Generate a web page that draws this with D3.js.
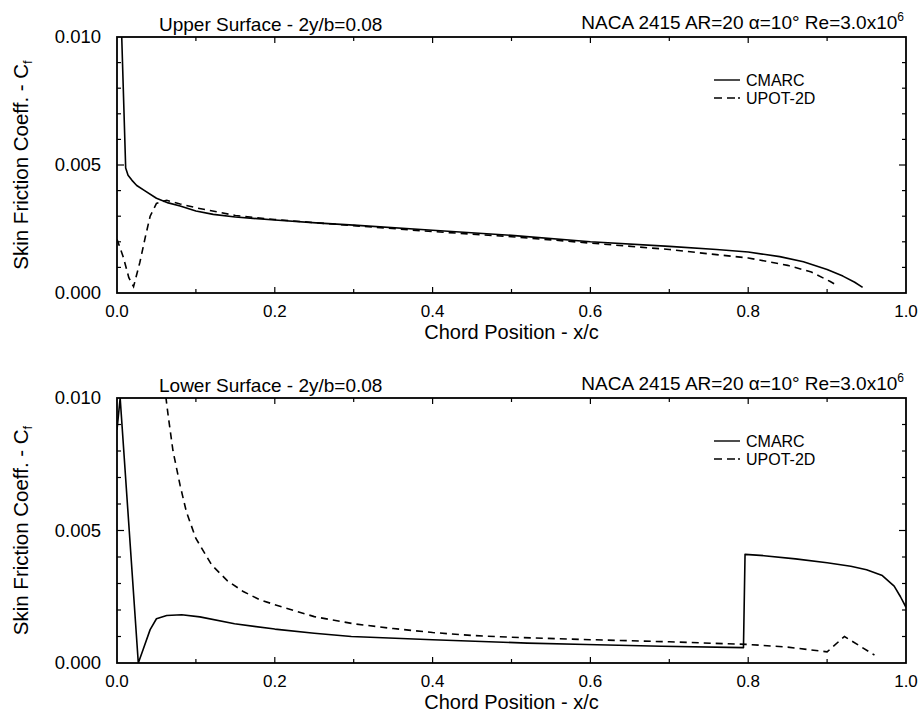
<!DOCTYPE html>
<html>
<head>
<meta charset="utf-8">
<script src="https://cdn.jsdelivr.net/npm/d3@7"></script>
<style>
  body { margin: 0; background: #fff; }
  svg { display: block; }
  text { font-family: "Liberation Sans", Arial, Helvetica, sans-serif; fill: #000; }
</style>
</head>
<body>
<svg id="chart" width="919" height="714"></svg>
<script>
// Axis ticks and labels
const xTicks = [0, 0.2, 0.4, 0.6, 0.8, 1.0];
const xTickLabels = ["0.0", "0.2", "0.4", "0.6", "0.8", "1.0"];
const yTicks = [0, 0.005, 0.010];
const yTickLabels = ["0.000", "0.005", "0.010"];
const seriesNames = ["CMARC", "UPOT-2D"];
const panelTitles = ["Upper Surface - 2y/b=0.08", "Lower Surface - 2y/b=0.08"];

// Upper surface, CMARC
const upperCmarcX  = [0.006, 0.011, 0.014, 0.019, 0.025, 0.035, 0.05, 0.065, 0.08, 0.1, 0.122, 0.15, 0.2, 0.257, 0.3, 0.4, 0.5, 0.6, 0.7, 0.76, 0.8, 0.84, 0.87, 0.9, 0.92, 0.935, 0.945];
const upperCmarcCf = [0.0100, 0.00488, 0.0046, 0.0044, 0.0042, 0.0040, 0.0037, 0.00352, 0.0034, 0.0032, 0.00307, 0.00297, 0.00285, 0.00273, 0.00265, 0.00245, 0.00225, 0.0020, 0.00182, 0.0017, 0.0016, 0.00142, 0.00122, 0.00092, 0.00066, 0.00042, 0.00022];

// Upper surface, UPOT-2D
const upperUpotX  = [0.0, 0.008, 0.015, 0.021, 0.029, 0.036, 0.042, 0.05, 0.063, 0.08, 0.1, 0.15, 0.2, 0.3, 0.4, 0.5, 0.6, 0.7, 0.75, 0.8, 0.85, 0.88, 0.904, 0.914];
const upperUpotCf = [0.0021, 0.0014, 0.0006, 0.00025, 0.0012, 0.0022, 0.0030, 0.0035, 0.00362, 0.00348, 0.00333, 0.00303, 0.00287, 0.00263, 0.0024, 0.0022, 0.00195, 0.0017, 0.00153, 0.00137, 0.00108, 0.00082, 0.00045, 0.00027];

// Lower surface, CMARC
const lowerCmarcX  = [0.0, 0.004, 0.027, 0.033, 0.042, 0.05, 0.063, 0.082, 0.105, 0.149, 0.2, 0.25, 0.297, 0.4, 0.52, 0.595, 0.69, 0.794, 0.796, 0.82, 0.86, 0.9, 0.93, 0.95, 0.97, 0.985, 0.993, 1.0];
const lowerCmarcCf = [0.0088, 0.0100, 0.0, 0.0005, 0.00126, 0.00167, 0.00179, 0.00182, 0.00174, 0.00148, 0.00128, 0.00112, 0.00100, 0.00088, 0.00075, 0.0007, 0.00063, 0.00058, 0.0041, 0.00405, 0.00393, 0.00378, 0.00365, 0.00352, 0.0033, 0.0029, 0.0025, 0.0021];

// Lower surface, UPOT-2D
const lowerUpotX  = [0.060, 0.065, 0.071, 0.08, 0.088, 0.1, 0.12, 0.14, 0.16, 0.18, 0.2, 0.25, 0.3, 0.35, 0.4, 0.45, 0.5, 0.6, 0.7, 0.8, 0.85, 0.9, 0.922, 0.96];
const lowerUpotCf = [0.0105, 0.0093, 0.0080, 0.0067, 0.0057, 0.0047, 0.0037, 0.0031, 0.0027, 0.0024, 0.0022, 0.00175, 0.00148, 0.0013, 0.00115, 0.00104, 0.00097, 0.00088, 0.0008, 0.0007, 0.0006, 0.00042, 0.0010, 0.0003];

const panels = [
  { title: panelTitles[0], top: 37, bottom: 293,
    cmarc: { x: upperCmarcX, y: upperCmarcCf }, upot: { x: upperUpotX, y: upperUpotCf } },
  { title: panelTitles[1], top: 398, bottom: 663,
    cmarc: { x: lowerCmarcX, y: lowerCmarcCf }, upot: { x: lowerUpotX, y: lowerUpotCf } }
];

const svg = d3.select("#chart");
const left = 117, right = 906;
const dash = "7,5";

panels.forEach((p, i) => {
  const x = d3.scaleLinear().domain([0, 1]).range([left, right]);
  const y = d3.scaleLinear().domain([0, 0.010]).range([p.bottom, p.top]);
  const g = svg.append("g");

  const clipId = "clip" + i;
  svg.append("clipPath").attr("id", clipId)
    .append("rect").attr("x", left).attr("y", p.top)
    .attr("width", right - left).attr("height", p.bottom - p.top);

  // inward ticks on all four sides: every 0.1 in x, every 0.001 in Cf
  const xMinor = d3.range(1, 10).map(d => d / 10);
  const yMinor = d3.range(1, 10).map(d => d / 1000);
  xMinor.forEach((v, k) => {
    const L = (k % 2 === 1) ? 6 : 4;
    g.append("line").attr("x1", x(v)).attr("x2", x(v)).attr("y1", p.bottom).attr("y2", p.bottom - L)
      .attr("stroke", "#000").attr("stroke-width", 1.2);
    g.append("line").attr("x1", x(v)).attr("x2", x(v)).attr("y1", p.top).attr("y2", p.top + L)
      .attr("stroke", "#000").attr("stroke-width", 1.2);
  });
  yMinor.forEach(v => {
    const L = Math.abs(v - 0.005) < 1e-9 ? 7 : 4;
    g.append("line").attr("x1", left).attr("x2", left + L).attr("y1", y(v)).attr("y2", y(v))
      .attr("stroke", "#000").attr("stroke-width", 1.2);
    g.append("line").attr("x1", right).attr("x2", right - L).attr("y1", y(v)).attr("y2", y(v))
      .attr("stroke", "#000").attr("stroke-width", 1.2);
  });

  // frame
  g.append("rect").attr("x", left).attr("y", p.top)
    .attr("width", right - left).attr("height", p.bottom - p.top)
    .attr("fill", "none").attr("stroke", "#000").attr("stroke-width", 1.8);

  // tick labels
  g.selectAll(".xl").data(xTicks).enter().append("text")
    .attr("x", d => x(d)).attr("y", p.bottom + 24)
    .attr("text-anchor", "middle").attr("font-size", 17)
    .text((d, k) => xTickLabels[k]);
  g.selectAll(".yl").data(yTicks).enter().append("text")
    .attr("x", 101).attr("y", d => y(d)).attr("dy", "0.35em")
    .attr("text-anchor", "end").attr("font-size", 18.5)
    .text((d, k) => yTickLabels[k]);

  // axis titles
  g.append("text").attr("x", (left + right) / 2).attr("y", p.bottom + 46)
    .attr("text-anchor", "middle").attr("font-size", 20)
    .text("Chord Position - x/c");
  const yt = g.append("text")
    .attr("transform", `translate(28,${(p.top + p.bottom) / 2}) rotate(-90)`)
    .attr("text-anchor", "middle").attr("font-size", 20.5);
  yt.append("tspan").text("Skin Friction Coeff. - C");
  yt.append("tspan").attr("font-size", 13).attr("dy", 4).text("f");

  // titles above the frame
  g.append("text").attr("x", 159).attr("y", p.top - 6).attr("font-size", 19).text(p.title);
  const rt = g.append("text").attr("x", 904).attr("y", p.top - 8)
    .attr("text-anchor", "end").attr("font-size", 19);
  rt.append("tspan").text("NACA 2415 AR=20 \u03b1=10\u00b0 Re=3.0x10");
  rt.append("tspan").attr("font-size", 12).attr("dy", -8).text("6");

  // curves
  const line = d3.line().x(d => x(d[0])).y(d => y(d[1]));
  const cm = d3.zip(p.cmarc.x, p.cmarc.y);
  const up = d3.zip(p.upot.x, p.upot.y);
  g.append("path").attr("clip-path", `url(#${clipId})`).datum(cm).attr("d", line)
    .attr("fill", "none").attr("stroke", "#000").attr("stroke-width", 1.6)
    .attr("stroke-linejoin", "round");
  g.append("path").attr("clip-path", `url(#${clipId})`).datum(up).attr("d", line)
    .attr("fill", "none").attr("stroke", "#000").attr("stroke-width", 1.6)
    .attr("stroke-dasharray", dash);

  // legend
  const ly = p.top + 43;
  seriesNames.forEach((name, k) => {
    const yy = ly + k * 18;
    g.append("line").attr("x1", 714).attr("x2", 740).attr("y1", yy).attr("y2", yy)
      .attr("stroke", "#000").attr("stroke-width", 1.4)
      .attr("stroke-dasharray", k === 0 ? null : "8,5,8,3,2");
    g.append("text").attr("x", 746).attr("y", yy).attr("dy", "0.36em")
      .attr("font-size", 16).text(name);
  });
});
</script>
</body>
</html>
